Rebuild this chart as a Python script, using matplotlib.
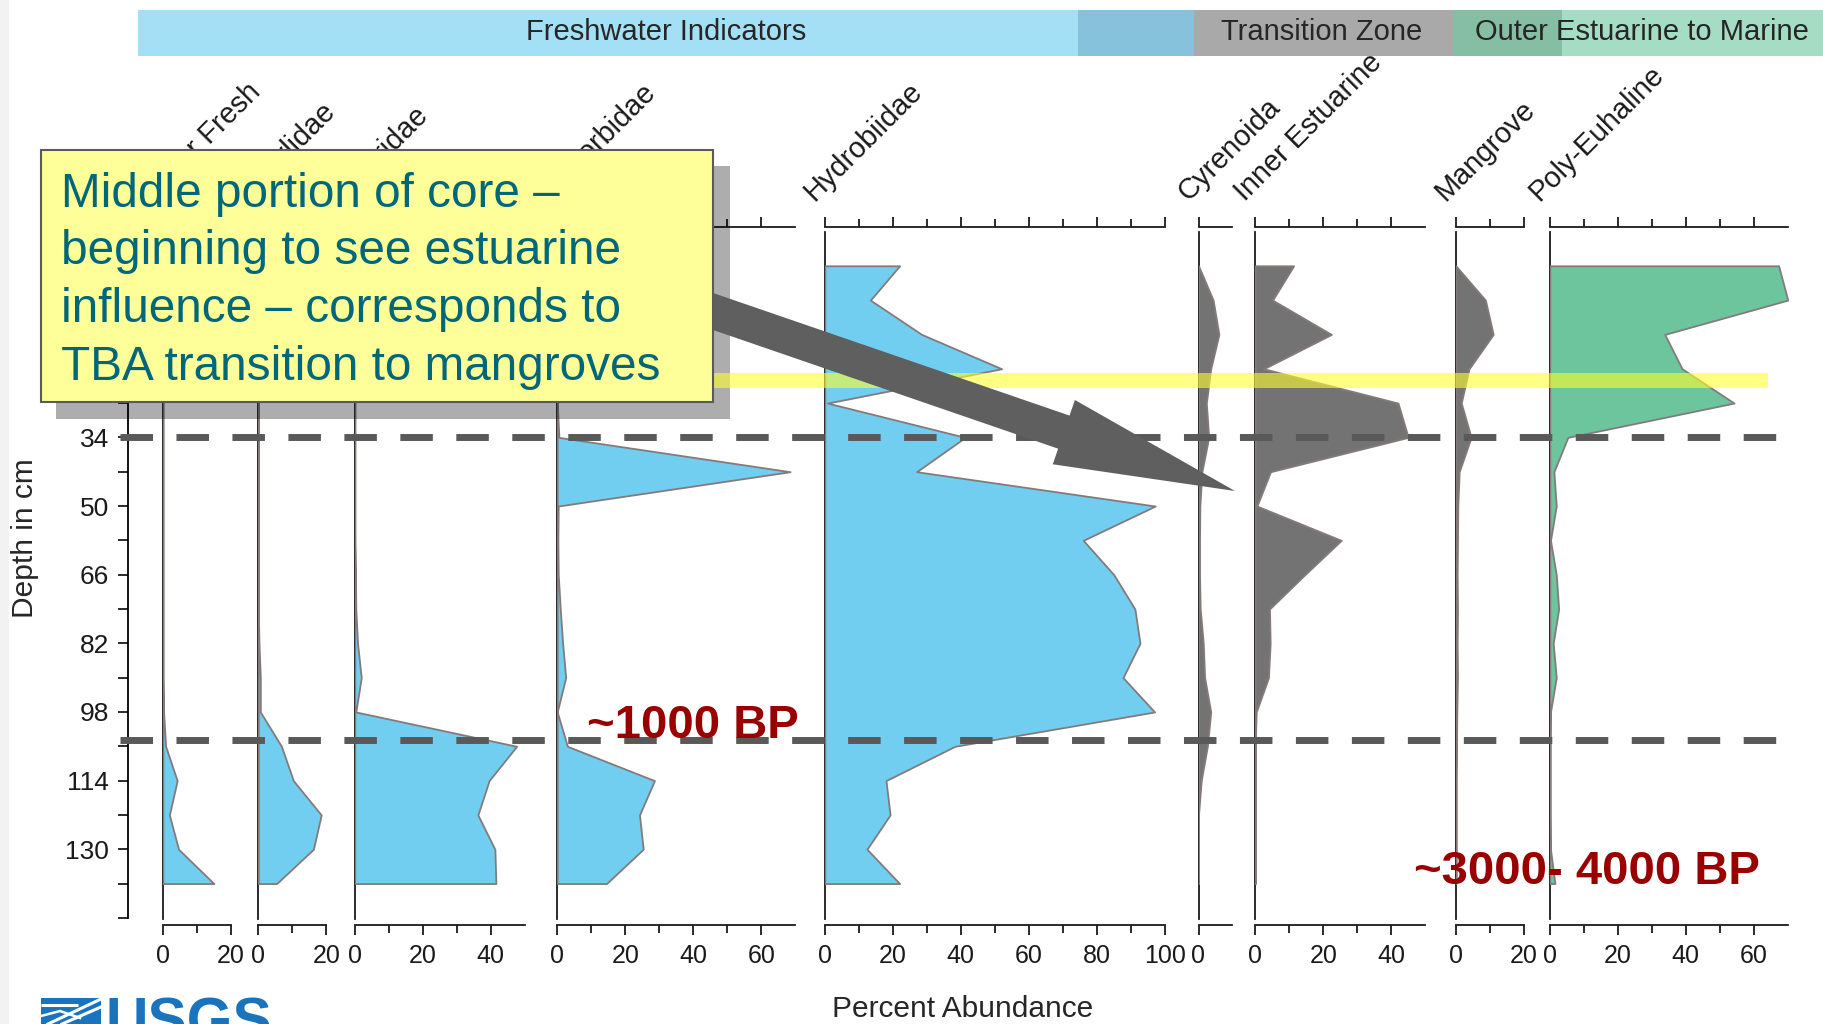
import numpy as np
import matplotlib
matplotlib.use("Agg")
import matplotlib.pyplot as plt
from matplotlib import font_manager
from matplotlib.patches import Rectangle, Polygon
from matplotlib.ticker import FixedLocator

plt.rcParams["font.family"] = ["Liberation Sans", "DejaVu Sans"]
plt.rcParams["lines.scale_dashes"] = False

# ---------------------------------------------------------------- data
depth = [-6, 2, 10, 18, 26, 34, 42, 50, 58, 66, 74, 82, 90, 98, 106, 114, 122, 130, 138]

other_fresh = [0, 0, 0, 0, 0, 0, 0, 0, 0, 0, 0, 0, 0, 0.2, 0.8, 4.2, 1.9, 4.6, 15.0]
ancylidae = [0, 0, 0, 0, 0, 0, 0, 0, 0, 0, 0, 0.2, 0.6, 0.6, 6.8, 10.3, 18.5, 16.2, 5.4]
thiaridae = [0, 0, 0, 0, 0, 0, 0, 0, 0, 0.2, 0.3, 0.8, 1.9, 0.3, 47.6, 39.5, 36.2, 41.2, 41.5]
planorbidae = [0, 0, 0, 0, 0, 0.5, 68.5, 0.3, 0.2, 0.3, 0.9, 1.6, 2.5, 0.0, 3.0, 28.6, 24.2, 25.3, 14.5]
hydrobiidae = [22.0, 13.4, 28.5, 52.0, 0.8, 41.3, 27.0, 97.2, 76.0, 85.0, 91.2, 92.7, 87.7, 97.0,
               38.3, 18.0, 19.2, 12.4, 22.0]
cyrenoida = [0, 4.3, 6.0, 3.6, 2.3, 3.0, 1.0, 0.4, 0.3, 0.3, 0.5, 1.4, 1.8, 3.6, 2.6, 0.8, 0, 0, 0]
inner_estuarine = [11.3, 5.1, 22.4, 2.5, 42.0, 45.0, 4.5, 0.5, 25.3, 14.6, 4.2, 4.4, 3.9, 0.3,
                   0, 0, 0, 0, 0]
mangrove = [0, 8.7, 11.0, 3.9, 1.6, 4.5, 1.0, 0.6, 0.5, 0.4, 0.5, 0.4, 0.5, 0.3, 0.2, 0.1, 0.1, 0.1, 0.1]
poly_euhaline = [67.3, 70.0, 33.8, 38.9, 54.2, 5.3, 1.2, 1.9, 0.2, 1.9, 2.6, 1.0, 1.9, 0.2,
                 0.1, 0.1, 0.1, 0.2, 1.5]

taxa = ["Other Fresh", "Ancylidae", "Thiaridae", "Planorbidae", "Hydrobiidae",
        "Cyrenoida", "Inner Estuarine", "Mangrove", "Poly-Euhaline"]
series = [other_fresh, ancylidae, thiaridae, planorbidae, hydrobiidae,
          cyrenoida, inner_estuarine, mangrove, poly_euhaline]
axis_max = [20, 20, 50, 70, 100, 10, 50, 20, 70]
zone_of_taxon = ["fresh"] * 5 + ["transition"] * 3 + ["marine"]

groups = ["Freshwater Indicators", "Transition Zone", "Outer Estuarine to Marine"]

depth_ticks = list(range(-14, 147, 8))
depth_labelled = list(range(34, 131, 16))
zone_bounds = [34, 104.5]
highlight_depths = (19.1, 22.6)
age_labels = ["~1000 BP", "~3000- 4000 BP"]
note_lines = ["Middle portion of core \u2013",
              "beginning to see estuarine",
              "influence \u2013 corresponds to",
              "TBA transition to mangroves"]

# ---------------------------------------------------------------- styling / layout
W, H = 1824, 1024
fill_colors = {"fresh": "#71CEF0", "transition": "#737373", "marine": "#6CC59D"}
EDGE = "#857a7a"
PX_PER_PCT = 3.40
zero_px = [162.9, 258.3, 354.8, 557.2, 824.8, 1198.5, 1255.2, 1455.8, 1549.8]
TOP_PX, BOT_PX = 227, 925
YLIM = (147.66, -15.04)

names = {f.name for f in font_manager.fontManager.ttflist}
NARROW = "Liberation Sans Narrow" in names


def px_rect(x0, y0, x1, y1):
    return [x0 / W, 1 - y1 / H, (x1 - x0) / W, (y1 - y0) / H]


fig = plt.figure(figsize=(W / 100, H / 100), dpi=100)
fig.patch.set_facecolor("white")

# ---------------------------------------------------------------- stratigraphic panels
for name, vals, xmax, zone, z in zip(taxa, series, axis_max, zone_of_taxon, zero_px):
    ax = fig.add_axes(px_rect(z, TOP_PX, z + xmax * PX_PER_PCT, BOT_PX))
    ax.set_facecolor("none")
    ax.fill_betweenx(depth, 0, vals, facecolor=fill_colors[zone], edgecolor=EDGE,
                     linewidth=1.3, zorder=3)
    ax.set_xlim(0, xmax)
    ax.set_ylim(*YLIM)
    ax.spines["right"].set_visible(False)
    for s in ("left", "top", "bottom"):
        ax.spines[s].set_linewidth(1.3)
        ax.spines[s].set_color("#1a1a1a")
    ax.spines["left"].set_bounds(-13.9, 146.3)
    ax.set_yticks([])
    ax.xaxis.set_major_locator(FixedLocator(list(range(0, xmax + 1, 20))))
    ax.xaxis.set_minor_locator(FixedLocator(list(range(10, xmax, 20))))
    ax.tick_params(axis="x", which="both", direction="out", top=True, bottom=True,
                   labeltop=False, labelbottom=True, width=1.3, color="#1a1a1a")
    ax.tick_params(axis="x", which="major", length=7.5, labelsize=18, pad=6,
                   labelcolor="#1a1a1a")
    ax.tick_params(axis="x", which="minor", length=5.5)

# depth axis
axd = fig.add_axes(px_rect(128, TOP_PX, 129, BOT_PX))
axd.set_facecolor("none")
axd.set_ylim(*YLIM)
axd.set_xticks([])
for s in ("right", "top", "bottom"):
    axd.spines[s].set_visible(False)
axd.spines["left"].set_bounds(depth_ticks[0], depth_ticks[-1])
axd.spines["left"].set_linewidth(1.3)
axd.set_yticks(depth_ticks)
axd.set_yticklabels([str(t) if t in depth_labelled else "" for t in depth_ticks])
axd.tick_params(axis="y", direction="out", length=7.5, width=1.3, labelsize=19, pad=6,
                colors="#1a1a1a")

# ---------------------------------------------------------------- callout shadow
axs = fig.add_axes([0, 0, 1, 1], zorder=4)
axs.set_xlim(0, W)
axs.set_ylim(H, 0)
axs.axis("off")
axs.add_patch(Rectangle((56, 166), 674, 253, facecolor="black", alpha=0.32, lw=0))

# ---------------------------------------------------------------- zone lines and highlight
axo = fig.add_axes(px_rect(0, TOP_PX, W, BOT_PX), zorder=5)
axo.set_facecolor("none")
axo.set_xlim(0, W)
axo.set_ylim(*YLIM)
axo.axis("off")
axo.fill_between([700, 1768], highlight_depths[0], highlight_depths[1],
                 color="#FFFF30", alpha=0.6, lw=0)
axo.hlines(zone_bounds, 120, 1778, colors="#595959", linewidth=5.0,
           linestyles=[(0, (23.4, 16.9))])

# ---------------------------------------------------------------- annotation layer
axa = fig.add_axes([0, 0, 1, 1], zorder=6)
axa.set_xlim(0, W)
axa.set_ylim(H, 0)
axa.axis("off")

axa.add_patch(Rectangle((0, 0), 9, H, facecolor="#f2f2f2", lw=0))

# ecological group header
band = [(138, 1078, "#A3DFF5"), (1078, 1194, "#86C2DB"), (1194, 1453, "#A9A9A9"),
        (1453, 1562, "#86BEA3"), (1562, W, "#A4DDC4")]
for x0, x1, c in band:
    axa.add_patch(Rectangle((x0, 10), x1 - x0, 46, facecolor=c, lw=0))
for label, xc in zip(groups, [666, 1322, 1642]):
    axa.text(xc, 32, label, ha="center", va="center", fontsize=21, color="#262626")

# taxon names
for name, z in zip(taxa, zero_px):
    axa.text(z - 10, 202, name, rotation=45, rotation_mode="anchor", ha="left",
             va="baseline", fontsize=20.8, color="#1a1a1a")

axa.text(25, 538, "Depth in cm", rotation=90, ha="center", va="center", fontsize=21.5,
         color="#262626")
axa.text(963, 1009, "Percent Abundance", ha="center", va="center", fontsize=21.5,
         color="#262626")

# arrow from callout
tail = np.array([650.0, 289.8])
tip = np.array([1235.0, 491.0])
u = (tip - tail) / np.linalg.norm(tip - tail)
n = np.array([-u[1], u[0]])
base = tip - u * 181
sw, hw = 17.5, 34
arrow_pts = [tail + n * sw, base + n * sw, base + n * hw, tip,
             base - n * hw, base - n * sw, tail - n * sw]
axa.add_patch(Polygon(arrow_pts, closed=True, facecolor="#5f5f5f", lw=0, zorder=5))

# callout box
axa.add_patch(Rectangle((41.5, 150), 671.5, 251.5, facecolor="#FFFF99", edgecolor="#5a5a5a",
                        lw=1.5, zorder=10))
for i, line in enumerate(note_lines):
    axa.text(61, 207 + i * 57.5, line, ha="left", va="baseline", fontsize=34.4,
             color="#00677A", zorder=11)

# age labels
if NARROW:
    age_font = dict(family=["Liberation Sans Narrow", "Liberation Sans"], fontsize=41)
else:
    age_font = dict(family=["Liberation Sans", "DejaVu Sans"], fontsize=34)
axa.text(587, 738, age_labels[0], ha="left", va="baseline", fontweight="bold",
         color="#990000", zorder=12, **age_font)
axa.text(1414, 884, age_labels[1], ha="left", va="baseline", fontweight="bold",
         color="#990000", zorder=12, **age_font)

# agency logo (cut by the lower edge)
LOGO = "#1a74bd"
axa.add_patch(Rectangle((41, 998), 60, 30, facecolor=LOGO, lw=0))
axa.plot([41, 78], [1004.5, 1004.5], color="white", lw=2.2, solid_capstyle="butt")
axa.plot([48, 101], [1024, 999], color="white", lw=2.2)
axa.plot([62, 101], [1024, 1007], color="white", lw=2.2)
axa.plot([41, 60, 80], [1016, 1011, 1018], color="white", lw=1.8)
if NARROW:
    axa.text(106, 998 + 51.5, "USGS", ha="left", va="baseline", fontweight="bold",
             family=["Liberation Sans Narrow", "Liberation Sans"], fontsize=52, color=LOGO)
else:
    axa.text(106, 998 + 42, "USGS", ha="left", va="baseline", fontweight="bold",
             fontsize=42.4, color=LOGO)

fig.savefig("out.png", dpi=100)
